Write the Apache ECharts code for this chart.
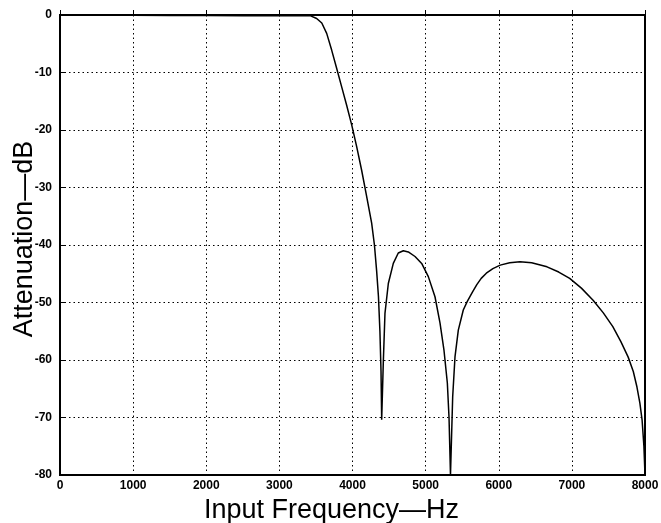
<!DOCTYPE html>
<html>
<head>
<meta charset="utf-8">
<script src="https://cdn.jsdelivr.net/npm/echarts@6/dist/echarts.min.js"></script>
<style>
  html, body { margin: 0; padding: 0; background: #fff; }
  #main { width: 661px; height: 523px; }
</style>
</head>
<body>
<div id="main"></div>
<script>
// frequency (Hz) and attenuation (dB)
var freqHz = [0, 500, 1000, 1500, 2000, 2500, 3000, 3300, 3420, 3510, 3580, 3647, 3715, 3784,
    3852, 3920, 3989, 4057, 4125, 4194, 4262, 4300, 4330, 4355, 4375, 4390, 4399,
    4421, 4444, 4490, 4558, 4626, 4695, 4763, 4855, 4946, 5037, 5128, 5197, 5251, 5297, 5320, 5340,
    5370, 5402, 5447, 5515, 5570, 5640, 5700, 5760, 5830, 5920, 6020, 6150, 6290, 6450, 6660, 6820, 6970,
    7130, 7290, 7430, 7560, 7670, 7770, 7840, 7890, 7930, 7960, 7985, 8000];
var attenDb = [0, -0.02, -0.05, -0.08, -0.1, -0.12, -0.15, -0.15, -0.1, -0.6, -1.4, -3.2, -6.1, -9.3,
    -12.5, -15.7, -19.1, -22.9, -27, -31.6, -36.2, -40, -44.5, -49, -55, -62, -70.4,
    -60.5, -51.9, -46.7, -43.2, -41.4, -41, -41.2, -42, -43.2, -45.5, -49, -53.6, -58.3, -64, -70, -80,
    -66.4, -59.4, -54.8, -51.3, -49.8, -48.2, -46.9, -45.8, -44.9, -44.1, -43.5, -43.1, -42.9, -43.1, -43.8, -44.7, -45.8,
    -47.5, -49.6, -51.8, -54.2, -56.8, -59.5, -62, -64.7, -67.5, -70.4, -75, -80];

var xTicks = [0, 1000, 2000, 3000, 4000, 5000, 6000, 7000, 8000];
var yTicks = [-80, -70, -60, -50, -40, -30, -20, -10, 0];

var points = [];
for (var i = 0; i < freqHz.length; i++) {
    points.push([freqHz[i], attenDb[i]]);
}

var chart = echarts.init(document.getElementById('main'));

var tickFont = {
    color: '#000',
    fontFamily: 'Liberation Sans',
    fontWeight: 'bold',
    fontSize: 12,
    formatter: function (v) { return String(v); }
};
var gridDots = { color: '#000', width: 1, type: [1.5, 3] };

var option = {
    animation: false,
    grid: {
        left: 60, right: 16, top: 15, bottom: 48,
        outerBoundsMode: 'none',
        containLabel: false,
        show: true,
        borderColor: '#000',
        borderWidth: 2
    },
    xAxis: {
        type: 'value',
        min: xTicks[0],
        max: xTicks[xTicks.length - 1],
        interval: 1000,
        name: 'Input Frequency\u2014Hz',
        nameLocation: 'middle',
        nameGap: 22,
        nameMoveOverlap: false,
        // title sits a little left of the plot centre
        nameTextStyle: { color: '#000', fontFamily: 'Liberation Sans', fontSize: 27, padding: [0, 42, 0, 0] },
        axisLine: { lineStyle: { color: '#000', width: 2 } },
        axisTick: { inside: true, length: 5, lineStyle: { color: '#000' } },
        axisLabel: Object.assign({ margin: 5 }, tickFont),
        splitLine: { show: true, lineStyle: gridDots }
    },
    yAxis: {
        type: 'value',
        min: yTicks[0],
        max: yTicks[yTicks.length - 1],
        interval: 10,
        name: 'Attenuation\u2014dB',
        nameLocation: 'middle',
        nameGap: 22,
        nameMoveOverlap: false,
        nameTextStyle: { color: '#000', fontFamily: 'Liberation Sans', fontSize: 27, padding: [0, 0, 0, 12] },
        axisLine: { show: true, lineStyle: { color: '#000', width: 2 } },
        axisTick: { show: true, inside: true, length: 5, lineStyle: { color: '#000' } },
        axisLabel: Object.assign({ margin: 8 }, tickFont),
        splitLine: { show: true, lineStyle: gridDots }
    },
    series: [{
        type: 'line',
        data: points,
        showSymbol: false,
        lineStyle: { color: '#000', width: 1.5 }
    }]
};

chart.setOption(option);
</script>
</body>
</html>
